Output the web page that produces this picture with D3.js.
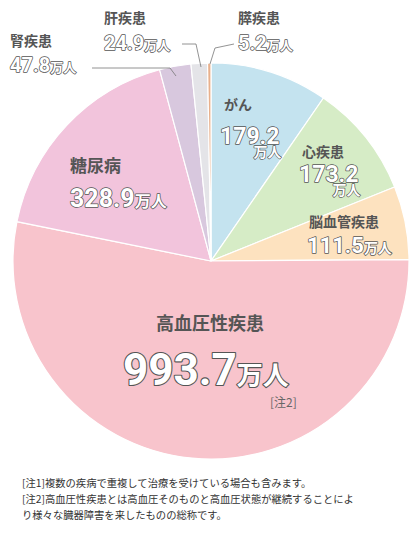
<!DOCTYPE html>
<html><head><meta charset="utf-8">
<script src="https://cdn.jsdelivr.net/npm/d3@7"></script>
<style>body{margin:0;background:#fff}svg{display:block;font-family:"Noto Sans CJK JP",sans-serif}</style>
</head><body><svg id="c" width="420" height="541"></svg>
<script>
const names = ['がん','心疾患','脳血管疾患','高血圧性疾患','糖尿病','腎疾患','肝疾患','膵疾患'];
const values = [179.2,173.2,111.5,993.7,328.9,47.8,24.9,5.2];
const colors = ['#c4e3ef','#d6ecc6','#fde2bf','#f8c4cc','#f2c4dc','#d8c8de','#e4e4e8','#e8b08c'];
const notes = ['[注1]複数の疾病で重複して治療を受けている場合も含みます。','[注2]高血圧性疾患とは高血圧そのものと高血圧状態が継続することによ','り様々な臓器障害を来したものの総称です。'];

const svg = d3.select('#c');
const cx = 211, cy = 261, r = 198;
const pie = d3.pie().sort(null).value(d => d);
const arc = d3.arc().innerRadius(0).outerRadius(r);
const g = svg.append('g').attr('transform', `translate(${cx},${cy})`);
g.selectAll('path').data(pie(values)).enter().append('path')
  .attr('d', arc).attr('fill', (d, i) => colors[i]).attr('stroke', '#fff').attr('stroke-width', 1.2);

// label layout: [nameX, nameY, nameSize, numX, numY, numSize, unitSize, unitBelow]
const layout = [
  [224,110,14,220,144,23,14,true],
  [302,157,14,299,182,23,14,true],
  [309,227,14,307,253,22,14,false],
  [210,330,18,123,385,44,26,false],
  [70,172,17,70,207,25,16,false],
  [10,46,14,10,72,20,13,false],
  [104,23,14,104,50,20,13,false],
  [238,23,14,238,50,20,13,false]
];
const fmt = d3.format('.1f');
const outline = s => s.attr('fill', '#fff').attr('stroke', '#555').attr('paint-order', 'stroke').attr('stroke-linejoin', 'round').attr('font-weight', 700);
names.forEach((n, i) => {
  const L = layout[i];
  svg.append('text').attr('x', L[0]).attr('y', L[1]).attr('font-size', L[2]).attr('font-weight', 700)
    .attr('fill', '#555').attr('text-anchor', i === 3 ? 'middle' : 'start').text(n);
  const num = svg.append('text').attr('x', L[3]).attr('y', L[4]).attr('font-family', 'Roboto, sans-serif')
    .attr('stroke-width', i === 3 ? 2.2 : 1.5).call(outline);
  num.append('tspan').attr('font-size', L[5]).text(fmt(values[i]));
  if (L[7]) {
    const w = num.node().getComputedTextLength();
    svg.append('text').attr('x', L[3] + w + 2).attr('y', L[4] + 13).attr('text-anchor', 'end')
      .attr('font-size', L[6]).attr('stroke-width', 1.3).call(outline).text('万人');
  } else {
    num.append('tspan').attr('font-size', L[6]).attr('font-family', '"Noto Sans CJK JP"').text('万人');
  }
});
svg.append('text').attr('x', 270).attr('y', 407).attr('font-size', 12).attr('fill', '#666').text('[注2]');

// leader lines
const leaders = [
  [[92,68],[170,68],[176,76]],
  [[182,44],[196,44],[201,67]],
  [[234,44],[215,48],[210,64]]
];
leaders.forEach(p => svg.append('path').attr('d', d3.line()(p)).attr('fill', 'none').attr('stroke', '#777').attr('stroke-width', 0.8));

notes.forEach((t, i) => svg.append('text').attr('x', 22).attr('y', 487 + i * 16).attr('font-size', 10.3).attr('fill', '#333').text(t));
</script></body></html>
